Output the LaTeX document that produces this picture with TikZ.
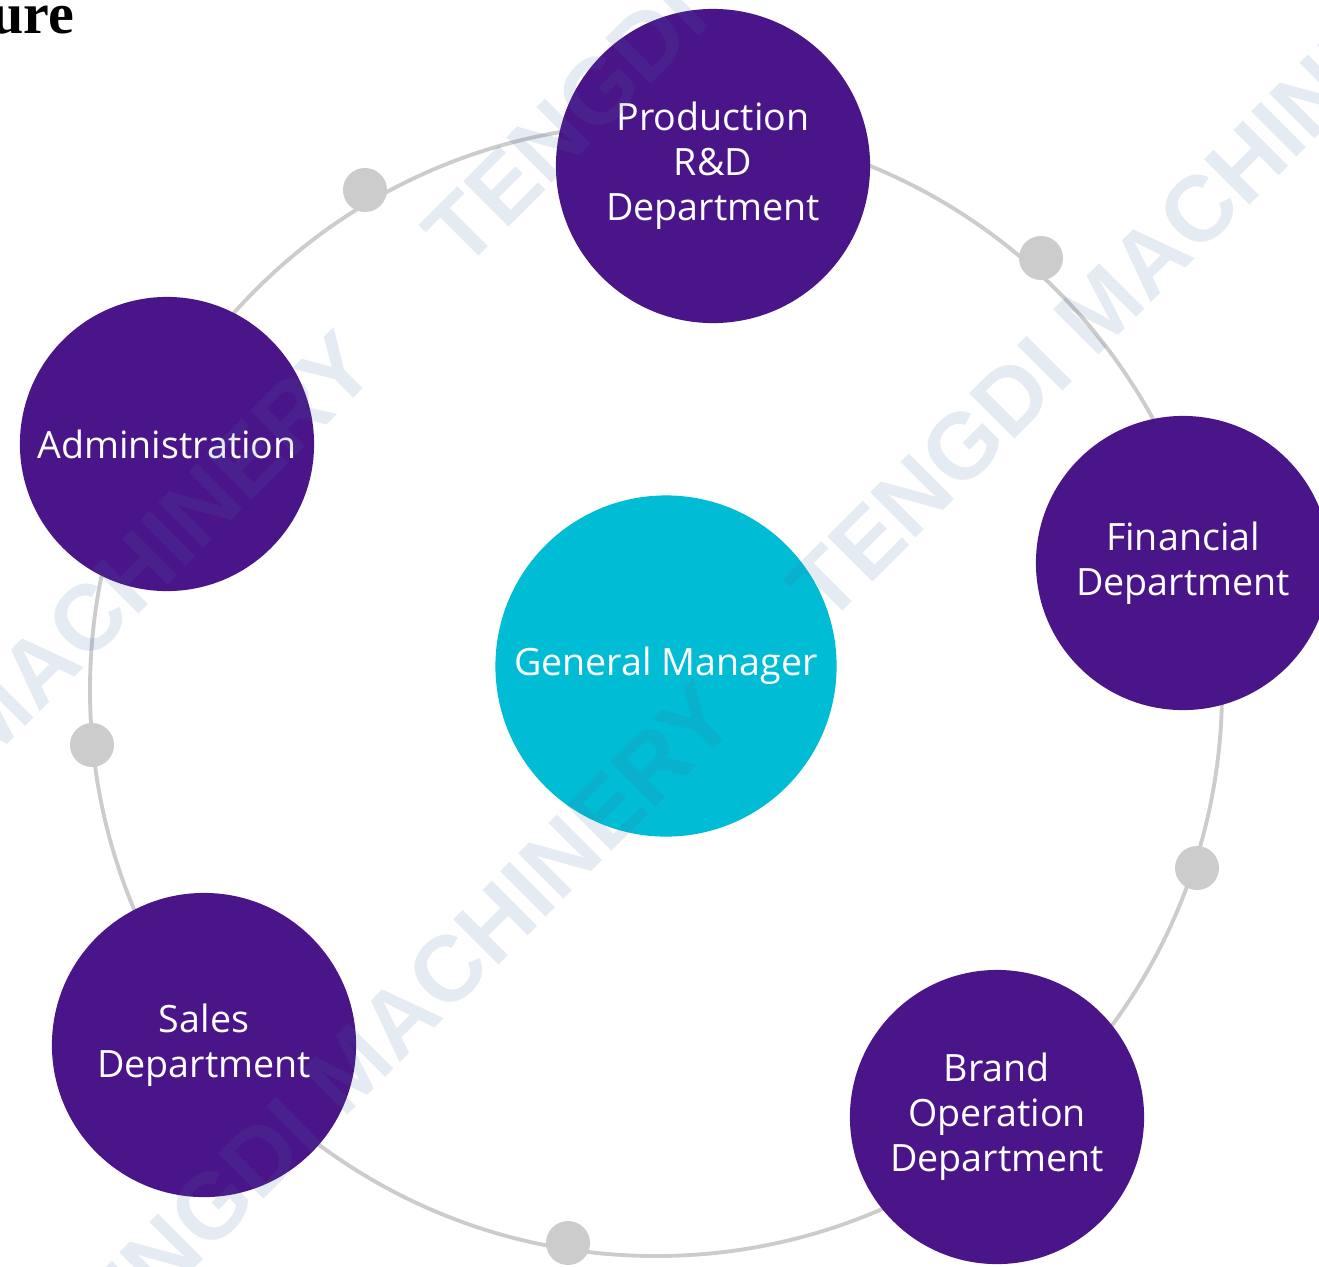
\documentclass[tikz,border=0pt]{standalone}
\usepackage{fontspec}
\setmainfont{Open Sans}
\newfontfamily\wmfont{Liberation Sans}
\newfontfamily\headfont{Liberation Serif}
\usepackage{tikz}
\definecolor{dept-purple}{RGB}{74,21,136}
\definecolor{gm-cyan}{RGB}{0,188,212}
\definecolor{ring-gray}{RGB}{204,204,204}
\definecolor{wm-blue}{RGB}{74,111,165}

\begin{document}
\begin{tikzpicture}[x=0.01cm, y=-0.01cm,
		dept/.style={circle, fill=dept-purple, text=white, align=center, inner sep=0pt, font=\fontsize{10.7}{12.8}\selectfont},
		ringdot/.style={circle, fill=ring-gray, minimum size=0.44cm, inner sep=0pt},
		watermark/.style={text=wm-blue, text opacity=0.14, rotate=45, inner sep=0pt, font=\wmfont\bfseries\fontsize{26.5}{30}\selectfont}]
		\path[use as bounding box, clip] (0,0) rectangle (1319,1266);
		
		% Draw the heading piece
		\node (heading) [anchor=base east, inner sep=0pt, font=\headfont\bfseries\fontsize{16.5}{18}\selectfont] at (75,33) {ure};
		
		% Draw the ring
		\coordinate (ringc) at (656,690);
		\draw[ring-gray, line width=1.1pt] (ringc) circle (566);
		
		% Draw the dots on the ring
		\node (dot1) [ringdot] at (365,190) {};
		\node (dot2) [ringdot] at (1041,258) {};
		\node (dot3) [ringdot] at (92,745) {};
		\node (dot4) [ringdot] at (1197,868) {};
		\node (dot5) [ringdot] at (568,1243) {};
		
		% Draw the general manager
		\node (gm) [dept, fill=gm-cyan, minimum size=3.41cm] at (666,666) {General Manager};
		
		% Draw the departments
		\node (prod) [dept, minimum size=3.14cm] at (713,166) {Production\\R\&D\\Department};
		\node (fin) [dept, minimum size=2.94cm] at (1183,563) {Financial\\Department};
		\node (brand) [dept, minimum size=2.94cm] at (997,1117) {Brand\\Operation\\Department};
		\node (sales) [dept, minimum size=3.04cm] at (204,1045) {Sales\\Department};
		\node (admin) [dept, minimum size=2.94cm] at (167,444) {Administration};
		
		% Draw the watermarks
		\node (wm1) [watermark] at (773,-83) {TENGDI MACHINERY};
		\node (wm2) [watermark] at (1137,272) {TENGDI MACHINERY};
		\node (wm3) [watermark] at (26,681) {TENGDI MACHINERY};
		\node (wm4) [watermark] at (386,1032) {TENGDI MACHINERY};
\end{tikzpicture}
\end{document}
